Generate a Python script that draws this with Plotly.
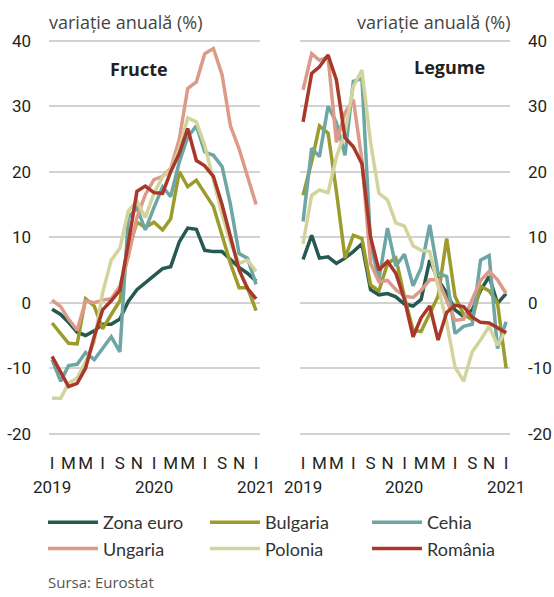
import plotly.graph_objects as go
import pandas as pd

months = pd.date_range("2019-01-01", periods=25, freq="MS").strftime("%Y-%m-%d").tolist()

series_names = ["Zona euro", "Bulgaria", "Cehia", "Ungaria", "Polonia", "România"]
colors = ["#245a50", "#9c9c2c", "#6ea6a6", "#dc9a88", "#d3d49c", "#a8382a"]

# Fructe (left panel), annual change %
fructe_zona = [-1.0, -1.8, -3.0, -4.5, -5.0, -4.3, -3.3, -3.3, -2.5, 0.2, 2.0, 3.0, 4.0, 5.2, 5.5, 9.3, 11.4, 11.2, 8.0, 7.8, 7.8, 6.6, 5.4, 4.5, 3.3]
fructe_bulgaria = [-3.1, -4.8, -6.2, -6.3, 0.6, -0.5, -4.0, -1.8, 0.3, 8.0, 12.3, 11.5, 12.3, 11.1, 12.8, 20.0, 17.7, 18.7, 16.8, 14.7, 10.3, 6.0, 2.3, 2.3, -1.2]
fructe_cehia = [-8.7, -12.0, -9.6, -9.4, -7.6, -8.7, -7.0, -5.2, -7.5, 13.0, 14.5, 11.1, 14.5, 17.7, 16.2, 21.5, 25.3, 27.0, 23.0, 22.5, 20.8, 15.0, 7.5, 6.8, 2.8]
fructe_ungaria = [0.4, -0.6, -2.5, -4.2, 0.3, 0.0, 0.4, 0.6, 2.5, 7.0, 13.0, 16.5, 18.8, 19.3, 20.5, 25.0, 32.7, 33.7, 38.0, 38.8, 34.8, 27.0, 23.5, 19.2, 15.0]
fructe_polonia = [-14.6, -14.6, -12.3, -11.5, -9.0, -6.0, 1.5, 6.5, 8.3, 14.0, 15.5, 13.0, 16.7, 19.2, 20.3, 23.5, 28.2, 27.6, 24.0, 18.5, 13.5, 9.2, 6.0, 6.5, 4.8]
fructe_romania = [-8.2, -10.5, -12.8, -12.3, -10.0, -5.2, -1.1, 0.3, 1.9, 9.0, 17.0, 17.8, 16.8, 16.7, 20.0, 22.8, 26.6, 21.7, 20.9, 19.3, 15.0, 10.1, 5.0, 2.2, 0.6]

# Legume (right panel), annual change %
legume_zona = [6.6, 10.3, 6.8, 7.0, 6.0, 6.8, 7.8, 9.0, 2.0, 1.2, 1.4, 0.9, -0.2, -0.5, 0.5, 6.5, 3.5, 1.5, -1.1, -2.1, -1.1, 1.9, 4.0, -0.1, 1.4]
legume_bulgaria = [16.4, 21.5, 27.0, 25.9, 17.0, 6.8, 10.3, 9.8, 2.7, 1.8, 6.0, 6.8, 0.9, -4.2, -4.4, -1.5, 1.0, 9.8, 1.0, -1.8, -2.6, 2.5, 1.8, 0.0, -10.0]
legume_cehia = [12.4, 23.6, 22.3, 30.0, 27.5, 22.5, 33.8, 34.2, 9.0, 3.5, 11.4, 5.6, 7.4, 2.6, 5.3, 11.9, 4.5, 4.0, -4.7, -3.6, -3.3, 6.5, 7.2, -7.0, -2.9]
legume_ungaria = [32.5, 38.0, 37.0, 37.5, 24.5, 29.0, 31.0, 21.8, 6.0, 3.2, 3.4, 2.0, 1.0, 0.8, 1.9, 3.5, 3.5, 0.5, -2.7, -2.5, 0.5, 3.4, 4.8, 3.5, 1.4]
legume_polonia = [9.0, 16.4, 17.2, 16.8, 22.2, 26.0, 33.0, 35.5, 24.5, 16.7, 15.7, 12.2, 11.7, 8.7, 8.0, 7.8, 2.5, -3.0, -9.8, -12.0, -7.5, -5.7, -3.6, -6.5, -4.2]
legume_romania = [27.6, 35.0, 36.0, 37.8, 34.0, 25.2, 23.8, 21.2, 10.0, 5.0, 6.3, 4.5, 0.5, -5.2, -2.3, -0.5, -5.7, -1.5, -0.4, -0.6, -2.2, -3.0, -3.1, -3.8, -4.6]

fructe = [fructe_zona, fructe_bulgaria, fructe_cehia, fructe_ungaria, fructe_polonia, fructe_romania]
legume = [legume_zona, legume_bulgaria, legume_cehia, legume_ungaria, legume_polonia, legume_romania]

tick_months = months[::2]
tick_letters = ["I", "M", "M", "I", "S", "N", "I", "M", "M", "I", "S", "N", "I"]
year_labels = ["2019", "2020", "2021"]
year_positions = [months[0], months[12], months[24]]
y_ticks = [-20, -10, 0, 10, 20, 30, 40]
y_tick_text = ["-20", "-10", "0", "10", "20", "30", "40"]

W, H = 554, 597
TICK_FONT = "Roboto, Liberation Sans, sans-serif"
TEXT_FONT = "Open Sans, Noto Sans, sans-serif"
LEGEND_FONT = "Lato, Open Sans, sans-serif"
DARK = "#231f20"

fig = go.Figure()
for k, name in enumerate(series_names):
    fig.add_trace(go.Scatter(x=months, y=fructe[k], mode="lines", name=name,
                             line=dict(color=colors[k], width=3.5),
                             xaxis="x", yaxis="y"))
for k, name in enumerate(series_names):
    fig.add_trace(go.Scatter(x=months, y=legume[k], mode="lines", name=name,
                             line=dict(color=colors[k], width=3.5),
                             showlegend=False, xaxis="x2", yaxis="y2"))

ydom = [1 - 435.7 / H, 1 - 38.7 / H]
xrange_ = ["2018-12-21", "2021-01-15"]

xcommon = dict(range=xrange_, tickvals=tick_months, ticktext=tick_letters, showgrid=False,
               zeroline=False, showline=False, ticks="", ticklabelstandoff=15, automargin=False,
               tickfont=dict(family=TICK_FONT, size=17, color=DARK))
ycommon = dict(range=[-20.3, 40.3], tickvals=y_ticks, ticktext=y_tick_text, showgrid=True,
               gridcolor="#d2d2d2", gridwidth=2, zeroline=False, showline=False, ticks="",
               ticklabelstandoff=17, automargin=False,
               tickfont=dict(family=TICK_FONT, size=17, color=DARK))

fig.update_layout(
    template="none",
    width=W, height=H,
    margin=dict(l=0, r=0, t=0, b=0, pad=0),
    paper_bgcolor="white", plot_bgcolor="white",
    xaxis=dict(domain=[49 / W, 260 / W], anchor="y", **xcommon),
    xaxis2=dict(domain=[300 / W, 510 / W], anchor="y2", **xcommon),
    yaxis=dict(domain=ydom, anchor="x", side="left", **ycommon),
    yaxis2=dict(domain=ydom, anchor="x2", side="right", **ycommon),
    showlegend=True,
    legend=dict(orientation="h", x=43 / W, y=1 - 504 / H, xanchor="left", yanchor="top",
                entrywidth=97, entrywidthmode="pixels", itemwidth=50, tracegroupgap=0,
                font=dict(family=LEGEND_FONT, size=18, color="#333333"),
                bgcolor="rgba(0,0,0,0)"),
)

annotations = []
for ax in ["x", "x2"]:
    for lab, pos in zip(year_labels, year_positions):
        annotations.append(dict(x=pos, y=1 - 487 / H, xref=ax, yref="paper", text=lab,
                                showarrow=False, xanchor="center", yanchor="middle",
                                font=dict(family=TICK_FONT, size=17, color=DARK)))
annotations += [
    dict(x=47 / W, y=1 - 22 / H, xref="paper", yref="paper", text="variație anuală (%)",
         showarrow=False, xanchor="left", yanchor="middle",
         font=dict(family=TEXT_FONT, size=18, color="#444444")),
    dict(x=512 / W, y=1 - 22 / H, xref="paper", yref="paper", text="variație anuală (%)",
         showarrow=False, xanchor="right", yanchor="middle",
         font=dict(family=TEXT_FONT, size=18, color="#444444")),
    dict(x=139 / W, y=1 - 69 / H, xref="paper", yref="paper", text="<b>Fructe</b>",
         showarrow=False, xanchor="center", yanchor="middle",
         font=dict(family=TEXT_FONT, size=18, color=DARK)),
    dict(x=449 / W, y=1 - 67 / H, xref="paper", yref="paper", text="<b>Legume</b>",
         showarrow=False, xanchor="center", yanchor="middle",
         font=dict(family=TEXT_FONT, size=18, color=DARK)),
    dict(x=46 / W, y=1 - 582 / H, xref="paper", yref="paper", text="Sursa: Eurostat",
         showarrow=False, xanchor="left", yanchor="middle",
         font=dict(family=TEXT_FONT, size=15, color="#555555")),
]
fig.update_layout(annotations=annotations)

fig.write_html("out.html", config={"displayModeBar": False},
               post_script="document.body.style.margin='0';")
